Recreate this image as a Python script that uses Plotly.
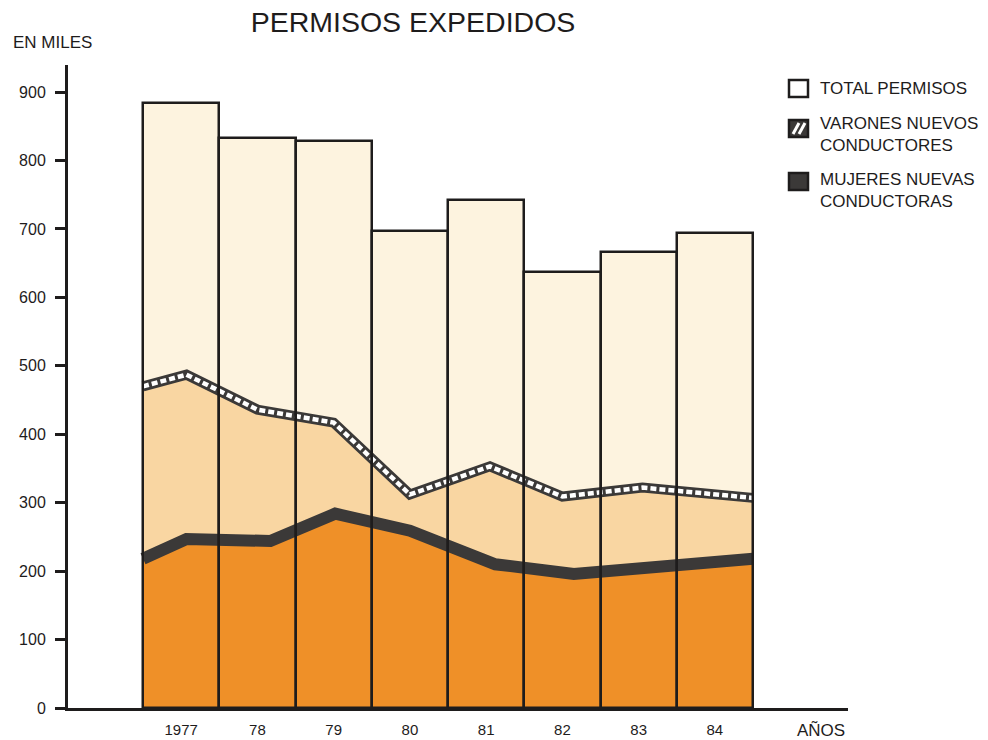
import plotly.graph_objects as go

# años y etiquetas del eje
anos = [1977, 1978, 1979, 1980, 1981, 1982, 1983, 1984]
etiquetas_anos = ["1977", "78", "79", "80", "81", "82", "83", "84"]

# total de permisos expedidos (miles)
total_permisos = [884, 833, 829, 697, 742, 637, 666, 694]

# linea de varones (acumulada sobre mujeres), vertices
varones_x = [1976.5, 1977.07, 1978.0, 1979.0, 1980.0, 1981.05, 1982.0, 1983.05, 1984.5]
varones_y = [470, 487, 436, 417, 312, 353, 309, 322, 307]

# linea de mujeres
mujeres_x = [1976.5, 1977.07, 1978.17, 1979.02, 1980.0, 1981.12, 1982.15, 1984.5]
mujeres_y = [218, 247, 244, 284, 259, 210, 196, 218]

CREMA = "#FDF3DF"
NARANJA_CLARO = "#F9D6A2"
NARANJA = "#EF9028"
OSCURO = "#3B3938"
NEGRO = "#1E1C1C"
FUENTE = "Liberation Sans, Arial, sans-serif"

W, H = 988, 740
ML, MR, MT, MB = 68, 140, 65, 32
Y_MAX = 939.5


def px_x(p):
    return (p - ML) / (W - ML - MR)


def px_y(p):
    return (H - MB - p) / (H - MT - MB)


fig = go.Figure()

# relleno de las barras
fig.add_trace(go.Bar(x=anos, y=total_permisos, width=1,
                     marker=dict(color=CREMA, line=dict(width=0)),
                     showlegend=False, hoverinfo="skip"))

# varones: area + banda rayada
fig.add_trace(go.Scatter(x=varones_x, y=varones_y, mode="lines", fill="tozeroy",
                         fillcolor=NARANJA_CLARO,
                         line=dict(color=OSCURO, width=10),
                         showlegend=False))
fig.add_trace(go.Scatter(x=varones_x, y=varones_y, mode="lines",
                         line=dict(color="white", width=4.5, dash="6px,3px"),
                         showlegend=False, hoverinfo="skip"))

# mujeres: area + banda oscura
fig.add_trace(go.Scatter(x=mujeres_x, y=mujeres_y, mode="lines", fill="tozeroy",
                         fillcolor=NARANJA,
                         line=dict(color=OSCURO, width=12),
                         showlegend=False))

# contornos de las barras en un eje superpuesto para que queden encima
fig.add_trace(go.Bar(x=anos, y=total_permisos, width=1, yaxis="y2",
                     marker=dict(color="rgba(0,0,0,0)", line=dict(color=NEGRO, width=2.5)),
                     showlegend=False, hoverinfo="skip"))

# leyenda dibujada a mano
shapes = [
    dict(type="rect", xref="paper", yref="paper", x0=px_x(789), x1=px_x(808),
         y0=px_y(97), y1=px_y(80), line=dict(color=NEGRO, width=2.5), fillcolor="white"),
    dict(type="rect", xref="paper", yref="paper", x0=px_x(789), x1=px_x(808),
         y0=px_y(137), y1=px_y(120), line=dict(color=NEGRO, width=2.5), fillcolor=OSCURO),
    dict(type="line", xref="paper", yref="paper", x0=px_x(793), x1=px_x(799),
         y0=px_y(134), y1=px_y(123), line=dict(color="white", width=3)),
    dict(type="line", xref="paper", yref="paper", x0=px_x(799), x1=px_x(805),
         y0=px_y(134), y1=px_y(123), line=dict(color="white", width=3)),
    dict(type="rect", xref="paper", yref="paper", x0=px_x(789), x1=px_x(808),
         y0=px_y(190), y1=px_y(173), line=dict(color=NEGRO, width=2.5), fillcolor=OSCURO),
]

textos = [
    ("TOTAL PERMISOS", 818, 88),
    ("VARONES NUEVOS<br>CONDUCTORES", 818, 134),
    ("MUJERES NUEVAS<br>CONDUCTORAS", 818, 190),
]
annotations = [dict(text=t, x=px_x(x), y=px_y(y), xref="paper", yref="paper",
                    xanchor="left", yanchor="middle", align="left", showarrow=False,
                    font=dict(size=17)) for t, x, y in textos]
annotations.append(dict(text="EN MILES", x=px_x(11), y=px_y(42), xref="paper", yref="paper",
                        xanchor="left", yanchor="middle", showarrow=False, font=dict(size=17)))
annotations.append(dict(text="AÑOS", x=px_x(821), y=px_y(730), xref="paper", yref="paper",
                        xanchor="center", yanchor="middle", showarrow=False, font=dict(size=17)))

fig.update_layout(
    width=W, height=H,
    margin=dict(l=ML, r=MR, t=MT, b=MB),
    paper_bgcolor="white", plot_bgcolor="white",
    bargap=0,
    font=dict(family=FUENTE, color=NEGRO, size=15),
    title=dict(text="PERMISOS EXPEDIDOS", x=413 / W, xanchor="center",
               y=1 - 22 / H, yanchor="middle", font=dict(size=28.5)),
    xaxis=dict(range=[1975.516, 1985.746], tickvals=anos, ticktext=etiquetas_anos,
               showgrid=False, zeroline=False, showline=True, linecolor=NEGRO, linewidth=3,
               ticks="outside", ticklen=6, tickcolor="rgba(0,0,0,0)",
               tickfont=dict(size=15), automargin=False),
    yaxis=dict(range=[0, Y_MAX], tickvals=list(range(0, 1000, 100)),
               showgrid=False, zeroline=False, showline=True, linecolor=NEGRO, linewidth=3,
               ticks="outside", ticklen=10, tickwidth=3, tickcolor=NEGRO,
               ticklabelstandoff=6, tickfont=dict(size=16), automargin=False),
    yaxis2=dict(range=[0, Y_MAX], overlaying="y", visible=False),
    shapes=shapes,
    annotations=annotations,
)

fig.write_html("out.html", config={"displayModeBar": False},
               post_script="document.body.style.margin='0';")
